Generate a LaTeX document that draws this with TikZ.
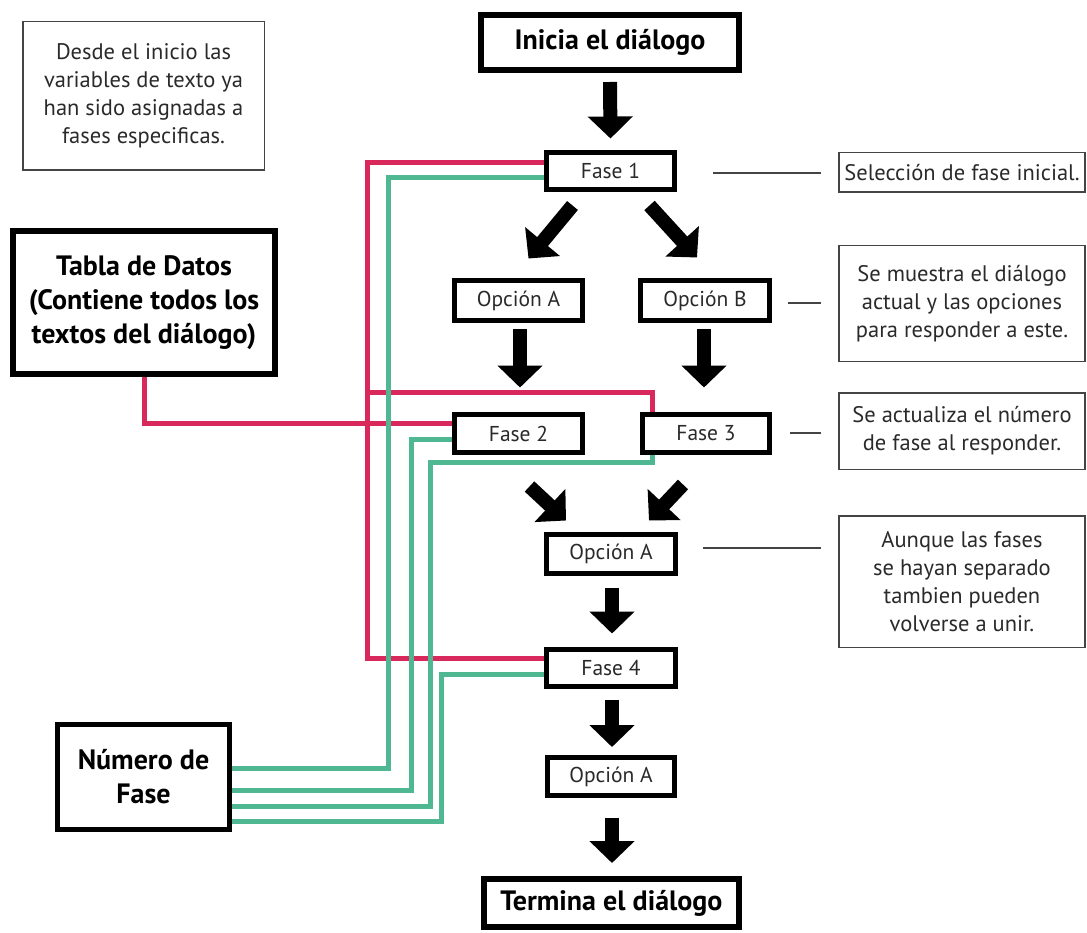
\documentclass[tikz,border=0pt]{standalone}
\usepackage{fontspec}
\setmainfont{PT Sans}
\usetikzlibrary{arrows.meta,calc}
\pgfdeclarelayer{background}
\pgfsetlayers{background,main}
\definecolor{pinkline}{HTML}{D8285C}
\definecolor{greenline}{HTML}{4FB893}
\definecolor{notegray}{HTML}{444444}
\definecolor{txtgray}{HTML}{2A2A2A}
\begin{document}
\begin{tikzpicture}[x=1pt,y=-1pt,
  every node/.style={inner sep=0pt, outer sep=0pt},
  flow/.style={draw=black, line width=5pt, fill=white, align=center, text=txtgray, font=\fontsize{21.5}{25}\selectfont},
  bigbox/.style={draw=black, line width=6pt, fill=white, align=center, font=\bfseries\fontsize{28}{34}\selectfont},
  notebox/.style={draw=notegray, line width=1.5pt, fill=white, align=center, text=txtgray, font=\fontsize{22.5}{28}\selectfont},
  bigarrow/.style={line width=14pt, -{Triangle[length=22pt,width=44pt]}},
  pinkw/.style={draw=pinkline, line width=5pt},
  greenw/.style={draw=greenline, line width=5pt},
  tickline/.style={draw=notegray, line width=1.5pt}
]
\useasboundingbox (0,0) rectangle (1087,933);

% flow boxes
\node[bigbox, minimum width=258pt, minimum height=55pt] (inicia) at (610,42.5) {Inicia el diálogo};
\node[flow, minimum width=128pt, minimum height=37pt] (fase1) at (610.5,171) {Fase 1};
\node[flow, minimum width=128pt, minimum height=40pt] (opA) at (518.5,300.5) {Opción A};
\node[flow, minimum width=129pt, minimum height=40pt] (opB) at (705,300.5) {Opción B};
\node[flow, minimum width=128pt, minimum height=38pt] (fase2) at (518.5,433.5) {Fase 2};
\node[flow, minimum width=127pt, minimum height=38pt] (fase3) at (706,433.5) {Fase 3};
\node[flow, minimum width=129pt, minimum height=39pt] (opC) at (611,554) {Opción A};
\node[flow, minimum width=129pt, minimum height=37pt] (fase4) at (611,668) {Fase 4};
\node[flow, minimum width=127pt, minimum height=38pt] (opD) at (611,776.5) {Opción A};
\node[bigbox, minimum width=255pt, minimum height=48pt] (termina) at (611.5,903) {Termina el diálogo};

% left boxes
\node[bigbox, minimum width=262pt, minimum height=143pt] (tabla) at (144,302.5) {Tabla de Datos\\(Contiene todos los\\textos del diálogo)};
\node[bigbox, line width=5pt, minimum width=172pt, minimum height=105pt] (numero) at (143.5,777) {Número de\\Fase};
\node[notebox, minimum width=241.5pt, minimum height=148.5pt] (nota) at (143.5,96) {Desde el inicio las\\variables de texto ya\\han sido asignadas a\\fases especificas.};

% annotation boxes
\node[notebox, minimum width=246pt, minimum height=39.5pt] (ann1) at (962,172.5) {Selección de fase inicial.};
\node[notebox, minimum width=246pt, minimum height=115.5pt] (ann2) at (962,303.5) {Se muestra el diálogo\\actual y las opciones\\para responder a este.};
\node[notebox, minimum width=246pt, minimum height=76.5pt] (ann3) at (962,431) {Se actualiza el número\\de fase al responder.};
\node[notebox, minimum width=246pt, minimum height=131.5pt] (ann4) at (962,581.5) {Aunque las fases\\se hayan separado\\tambien pueden\\volverse a unir.};

% tick lines from flow to annotations
\coordinate (t1) at (713,173);
\coordinate (t2) at (788,303);
\coordinate (t3) at (790,433);
\coordinate (t4) at (703,548);
\draw[tickline] (t1) -- ($(t1 -| ann1.west)+(-18,0)$);
\draw[tickline] (t2) -- ($(t2 -| ann2.west)+(-18,0)$);
\draw[tickline] (t3) -- ($(t3 -| ann3.west)+(-18,0)$);
\draw[tickline] (t4) -- ($(t4 -| ann4.west)+(-18,0)$);

% block arrows
\draw[bigarrow] ($(inicia.south)+(0,12)$) -- ($(fase1.north)+(0,-14)$);
\draw[bigarrow] ($(fase1.south)+(-38,16)$) -- ($(opA.north)+(10,-22)$);
\draw[bigarrow] ($(fase1.south)+(39,16)$) -- ($(opB.north)+(-8,-23)$);
\draw[bigarrow] ($(opA.south)+(1.5,9)$) -- ($(fase2.north)+(1.5,-27)$);
\draw[bigarrow] ($(opB.south)+(-1,9)$) -- ($(fase3.north)+(-2,-27)$);
\draw[bigarrow] ($(fase2.south)+(11,34)$) -- ($(opC.north)+(-45,-14)$);
\draw[bigarrow] ($(fase3.south)+(-23,32)$) -- ($(opC.north)+(38,-14)$);
\draw[bigarrow] ($(opC.south)+(1,14)$) -- ($(fase4.north)+(1,-16)$);
\draw[bigarrow] ($(fase4.south)+(1,13)$) -- ($(opD.north)+(1,-10.5)$);
\draw[bigarrow] ($(opD.south)+(1,22)$) -- ($(termina.north)+(0.5,-16)$);

% data lines
\coordinate (pv) at (367,392);
\begin{pgfonlayer}{background}
\draw[pinkw] ($(fase1.west)+(0,-8)$) -| ($(pv |- fase4.west)+(0,-10)$) -- ($(fase4.west)+(0,-10)$);
\draw[pinkw] (pv) -| ($(fase3.north west)+(10,0)$);
\draw[pinkw] (tabla.south) |- ($(fase2.west)+(0,-10)$);
\draw[greenw] ($(fase1.west)+(0,7)$) -| (388,768) -- ($(numero.east)+(0,-9)$);
\draw[greenw] ($(fase2.west)+(0,6)$) -| (411,790) -- ($(numero.east)+(0,13)$);
\draw[greenw] ($(fase3.south west)+(10,0)$) -- ++(0,10) -| (430,806) -- ($(numero.east)+(0,29)$);
\draw[greenw] ($(fase4.west)+(0,6)$) -| (441,821) -- ($(numero.east)+(0,44)$);
\end{pgfonlayer}
\end{tikzpicture}
\end{document}
